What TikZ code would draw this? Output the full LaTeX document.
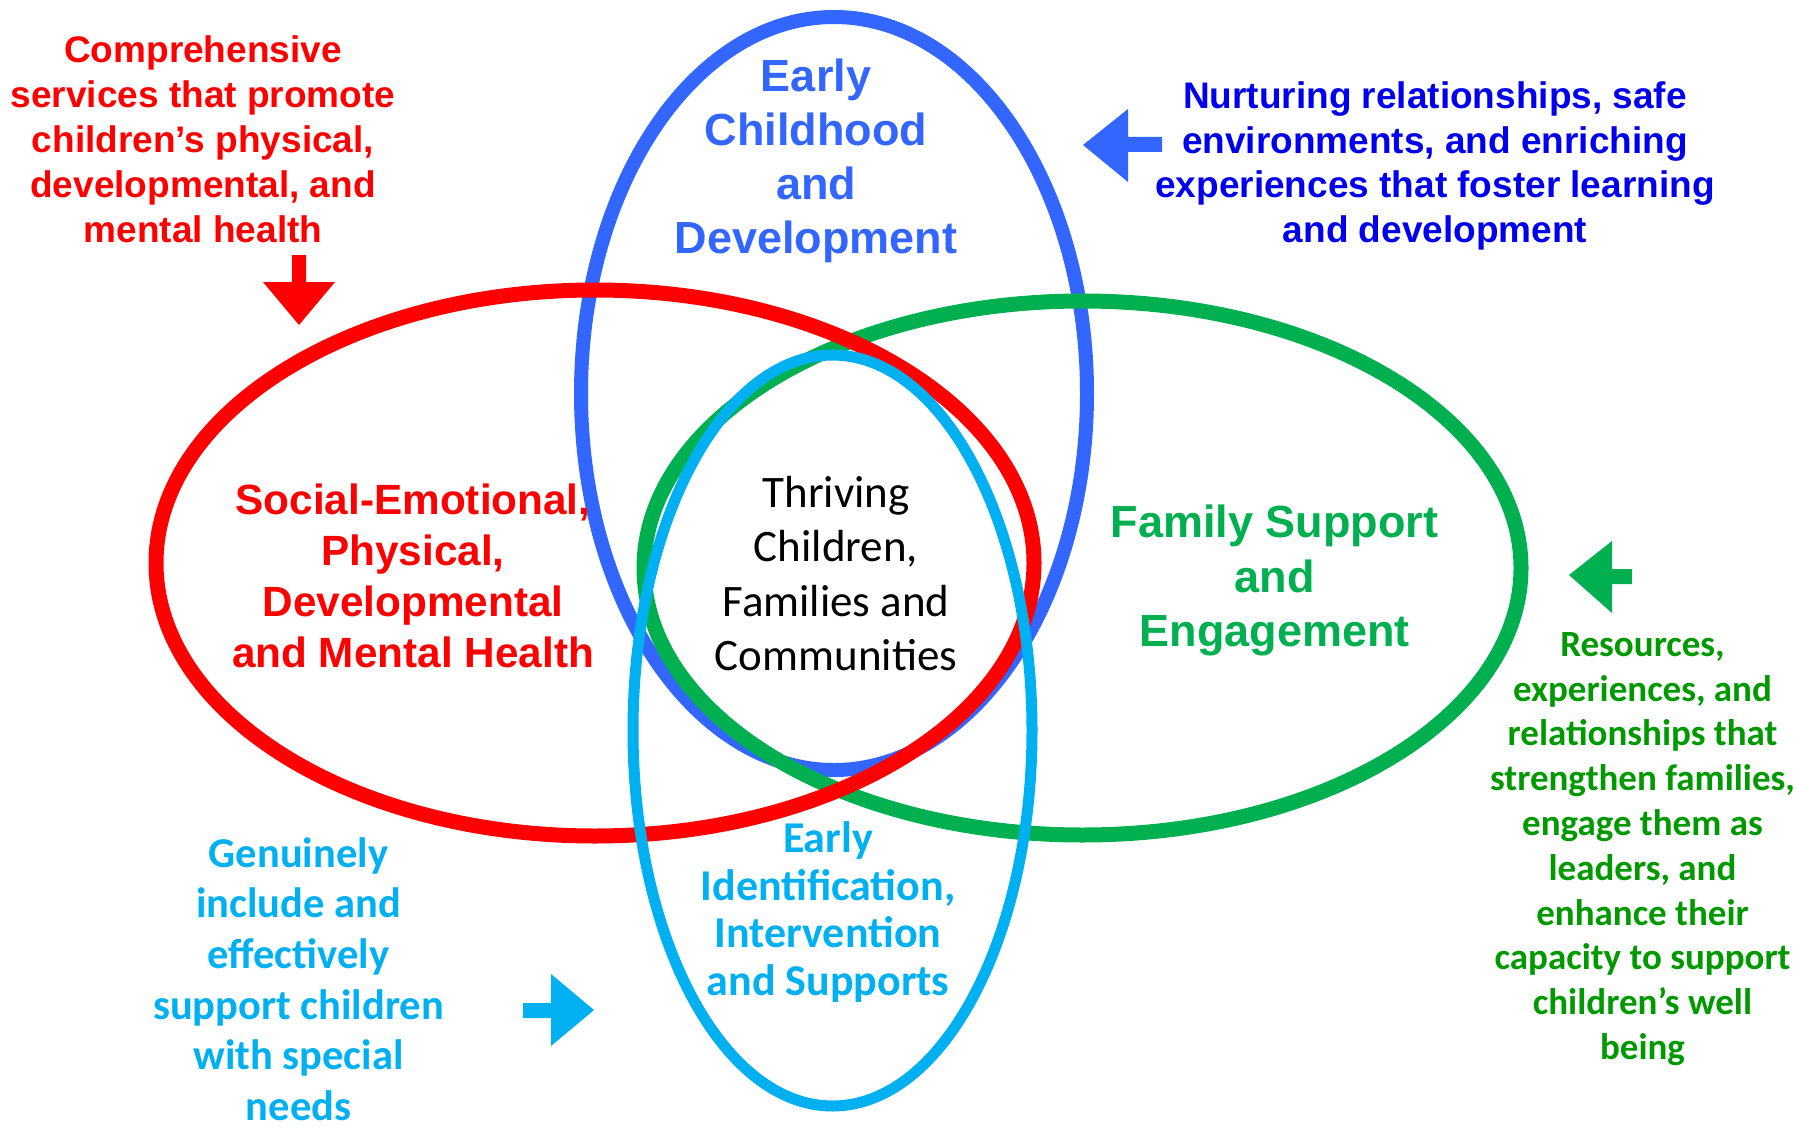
\documentclass[tikz,border=0pt]{standalone}
\usepackage{fontspec}
\setmainfont{Liberation Sans}
\newfontfamily\calibrifont{Carlito}
\definecolor{ecblue}{RGB}{51,102,255}
\definecolor{fsgreen}{RGB}{0,176,80}
\definecolor{mhred}{RGB}{255,0,0}
\definecolor{eicyan}{RGB}{0,176,240}
\definecolor{deepblue}{RGB}{0,0,238}
\definecolor{darkgreen}{RGB}{0,153,0}
\begin{document}
\begin{tikzpicture}[x=1pt,y=-1pt,
  lbl/.style={align=center,inner sep=0pt,anchor=center},
  ring/.style={line width=#1},
  arrowshape/.style={fill=#1,draw=none}]
\useasboundingbox (0,0) rectangle (1804,1129);
\fill[white] (0,0) rectangle (1804,1129);
% ellipses (bottom to top)
\draw[ecblue,ring=14] (834,393.5) ellipse [x radius=253, y radius=376.5];
\draw[fsgreen,ring=15] (1082.5,568) ellipse [x radius=438.5, y radius=267];
\draw[mhred,ring=15] (595,563) ellipse [x radius=439, y radius=273];
\draw[eicyan,ring=11] (832.5,730.5) ellipse [x radius=199.5, y radius=375.5];
% arrows
\fill[arrowshape=mhred] (292,255) -- (306,255) -- (306,282) -- (335,282) -- (299,325) -- (263,282) -- (292,282) -- cycle;
\fill[arrowshape=ecblue] (1162,137) -- (1162,152) -- (1128,152) -- (1128,182) -- (1083,145) -- (1128,109) -- (1128,137) -- cycle;
\fill[arrowshape=fsgreen] (1632,569) -- (1632,584) -- (1612,584) -- (1612,613) -- (1569,575) -- (1612,541) -- (1612,569) -- cycle;
\fill[arrowshape=eicyan] (523,1003) -- (551,1003) -- (551,974) -- (594,1010) -- (551,1046) -- (551,1018) -- (523,1018) -- cycle;
% texts
\node[lbl,text=mhred,font=\bfseries\fontsize{37}{45}\selectfont] (redtop) at (203,139.5)
  {Comprehensive\\services that promote\\children’s physical,\\developmental, and\\mental health};
\node[lbl,text=ecblue,font=\bfseries\fontsize{45}{54}\selectfont] (ectitle) at (816,161)
  {Early\\Childhood\\and\\Development};
\node[lbl,text=deepblue,font=\bfseries\fontsize{37}{44.7}\selectfont] (bluetext) at (1435,166)
  {Nurturing relationships, safe\\environments, and enriching\\experiences that foster learning\\and development};
\node[lbl,text=mhred,font=\bfseries\fontsize{42.3}{51}\selectfont] (redbig) at (413,575.5)
  {Social-Emotional,\\Physical,\\Developmental\\and Mental Health};
\node[lbl,text=fsgreen,font=\bfseries\fontsize{45}{54.6}\selectfont] (greenbig) at (1274.5,580.5)
  {Family Support\\and\\Engagement};
\node[lbl,text=black,font=\calibrifont\fontsize{45}{54.5}\selectfont] (center) at (836,573.5)
  {Thriving\\Children,\\Families and\\Communities};
\node[lbl,text=eicyan,font=\calibrifont\bfseries\fontsize{44}{47.7}\selectfont] (eititle) at (828,912)
  {Early\\Identification,\\Intervention\\and Supports};
\node[lbl,text=eicyan,font=\calibrifont\bfseries\fontsize{42.5}{50.6}\selectfont] (cyantext) at (298.5,979)
  {Genuinely\\include and\\effectively\\support children\\with special\\needs};
\node[lbl,text=darkgreen,font=\calibrifont\bfseries\fontsize{37}{44.8}\selectfont] (greentext) at (1642.5,849)
  {Resources,\\experiences, and\\relationships that\\strengthen families,\\engage them as\\leaders, and\\enhance their\\capacity to support\\children’s well\\being};
\end{tikzpicture}
\end{document}
